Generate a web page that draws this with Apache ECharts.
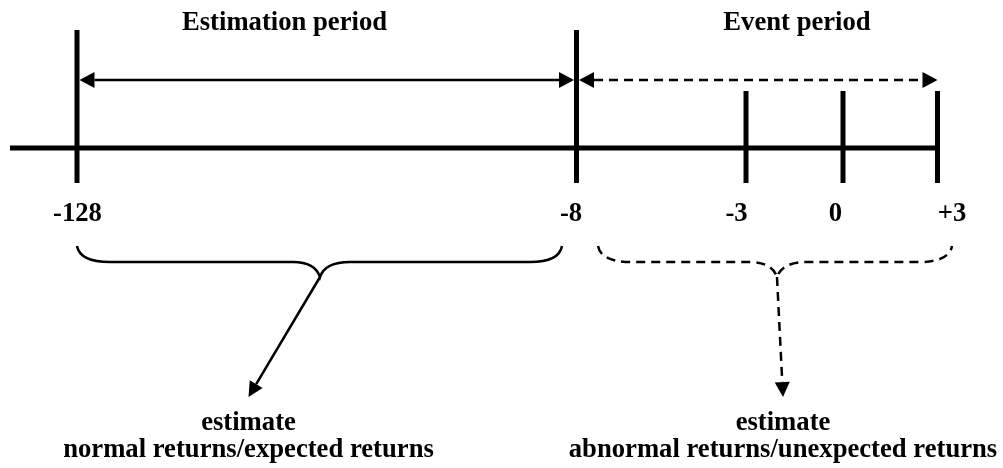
<!DOCTYPE html>
<html>
<head>
<meta charset="utf-8">
<title>Estimation and event window</title>
<script src="https://cdn.jsdelivr.net/npm/echarts@6/dist/echarts.min.js"></script>
<style>
    html, body {margin: 0; padding: 0; background: #fff;}
    #main {width: 1003px; height: 468px;}
</style>
</head>
<body>
<div id="main"></div>
<script>
    // days marked on the time line
    var days = [-128, -8, -3, 0, 3];
    var dayLabels = ['-128', '-8', '-3', '0', '+3'];
    // the two windows
    var periodNames = ['Estimation period', 'Event period'];
    var periodStart = [-128, -8];
    var periodEnd = [-8, 3];
    // what each window is used for
    var outcomeVerb = ['estimate', 'estimate'];
    var outcomeWhat = ['normal returns/expected returns', 'abnormal returns/unexpected returns'];

    // layout of the sketch (not to scale), in the 1003 x 468 frame of the axes
    var dayX = [77, 576.5, 746, 843, 937.5];
    var tallTick = [true, true, false, false, false];
    var labelX = [77.5, 571, 736.5, 835.5, 952];
    var titleX = [284.5, 797];
    var braceEnds = [[77, 562], [598, 952]];
    var braceTip = [320, 777];
    var outcomeX = [248.5, 783];
    var dashedPeriod = [false, true];
    var Y = {
        title: 23, arrow: 80, tallTop: 30, shortTop: 91, axis: 148, tickBottom: 183, label: 214,
        braceEnd: 246, braceMid: 262, braceTip: 277, outTip: 397, verb: 423, what: 450
    };

    var FONT = 'bold 26.67px "Liberation Serif", "Times New Roman", serif';

    function posOf(day) {
        return dayX[days.indexOf(day)];
    }
    function tallOf(day) {
        return tallTick[days.indexOf(day)];
    }

    // shaft end and triangle for an arrow head whose point is at t, coming from f
    function head(f, t, len, half) {
        var dx = t[0] - f[0], dy = t[1] - f[1];
        var d = Math.sqrt(dx * dx + dy * dy);
        var ux = dx / d, uy = dy / d;
        var bx = t[0] - ux * len, by = t[1] - uy * len;
        return {
            base: [bx, by],
            tri: {
                type: 'polygon',
                shape: {points: [t, [bx - uy * half, by + ux * half], [bx + uy * half, by - ux * half]]},
                style: {fill: '#000'}
            }
        };
    }

    var chart = echarts.init(document.getElementById('main'));
    chart.setOption({
        animation: false,
        grid: {left: 0, right: 0, top: 0, bottom: 0},
        xAxis: {type: 'value', min: 0, max: 1003, show: false},
        yAxis: {type: 'value', min: 0, max: 468, inverse: true, show: false},
        series: [
            {
                // the time line itself
                type: 'line',
                silent: true,
                symbol: 'none',
                lineStyle: {color: '#000', width: 5},
                data: [[10, Y.axis], [posOf(3) + 2.5, Y.axis]]
            },
            {
                // ticks and day labels
                type: 'custom',
                silent: true,
                clip: false,
                data: days.map(function (d, i) {
                    return [posOf(d), tallTick[i] ? Y.tallTop : Y.shortTop, Y.tickBottom, labelX[i]];
                }),
                renderItem: function (params, api) {
                    var top = api.coord([api.value(0), api.value(1)]);
                    var bot = api.coord([api.value(0), api.value(2)]);
                    var lab = api.coord([api.value(3), Y.label]);
                    return {
                        type: 'group',
                        children: [
                            {
                                type: 'line',
                                shape: {x1: top[0], y1: top[1], x2: bot[0], y2: bot[1]},
                                style: {stroke: '#000', lineWidth: 5}
                            },
                            {
                                type: 'text',
                                x: lab[0], y: lab[1],
                                style: {
                                    text: dayLabels[params.dataIndex], font: FONT, fill: '#000',
                                    align: 'center', verticalAlign: 'middle'
                                }
                            }
                        ]
                    };
                }
            },
            {
                // double headed arrows with the period names
                type: 'custom',
                silent: true,
                clip: false,
                data: periodNames.map(function (name, i) {
                    var a = periodStart[i], b = periodEnd[i];
                    return [posOf(a) + (tallOf(a) ? 2.5 : 0), posOf(b) - (tallOf(b) ? 2.5 : 0), titleX[i]];
                }),
                renderItem: function (params, api) {
                    var i = params.dataIndex;
                    var p1 = api.coord([api.value(0), Y.arrow]);
                    var p2 = api.coord([api.value(1), Y.arrow]);
                    var t = api.coord([api.value(2), Y.title]);
                    var h1 = head(p2, p1, 15, 8);
                    var h2 = head(p1, p2, 15, 8);
                    return {
                        type: 'group',
                        children: [
                            {
                                type: 'line',
                                shape: {x1: h1.base[0], y1: h1.base[1], x2: h2.base[0], y2: h2.base[1]},
                                style: {stroke: '#000', lineWidth: 2.5, lineDash: dashedPeriod[i] ? [9, 6] : null}
                            },
                            h1.tri,
                            h2.tri,
                            {
                                type: 'text',
                                x: t[0], y: t[1],
                                style: {
                                    text: periodNames[i], font: FONT, fill: '#000',
                                    align: 'center', verticalAlign: 'middle'
                                }
                            }
                        ]
                    };
                }
            },
            {
                // braces under each window, arrow down to what is estimated
                type: 'custom',
                silent: true,
                clip: false,
                data: periodNames.map(function (name, i) {
                    return [braceEnds[i][0], braceTip[i], braceEnds[i][1], outcomeX[i]];
                }),
                renderItem: function (params, api) {
                    var i = params.dataIndex;
                    var dash = dashedPeriod[i] ? [9, 6] : null;
                    var l = api.coord([api.value(0), Y.braceEnd]);
                    var m = api.coord([api.value(1), Y.braceMid]);
                    var tip = api.coord([api.value(1), Y.braceTip]);
                    var r = api.coord([api.value(2), Y.braceEnd]);
                    var out = api.coord([api.value(3), Y.outTip]);
                    var yv = m[1];
                    var d = 'M' + l[0] + ',' + l[1] +
                        ' C' + (l[0] + 2) + ',' + (l[1] + 11) + ' ' + (l[0] + 14) + ',' + yv + ' ' + (l[0] + 33) + ',' + yv +
                        ' L' + (tip[0] - 27) + ',' + yv +
                        ' C' + (tip[0] - 12) + ',' + yv + ' ' + (tip[0] - 3) + ',' + (yv + 6) + ' ' + tip[0] + ',' + tip[1] +
                        ' C' + (tip[0] + 3) + ',' + (yv + 6) + ' ' + (tip[0] + 12) + ',' + yv + ' ' + (tip[0] + 30) + ',' + yv +
                        ' L' + (r[0] - 32) + ',' + yv +
                        ' C' + (r[0] - 14) + ',' + yv + ' ' + (r[0] - 2) + ',' + (r[1] + 11) + ' ' + r[0] + ',' + r[1];
                    var h = head(tip, out, 15, 7.5);
                    var v = api.coord([api.value(3), Y.verb]);
                    var w = api.coord([api.value(3), Y.what]);
                    return {
                        type: 'group',
                        children: [
                            {
                                type: 'path',
                                shape: {pathData: d},
                                style: {stroke: '#000', fill: null, lineWidth: 2.5, lineDash: dash}
                            },
                            {
                                type: 'line',
                                shape: {x1: tip[0], y1: tip[1], x2: h.base[0], y2: h.base[1]},
                                style: {stroke: '#000', lineWidth: 2.5, lineDash: dash}
                            },
                            h.tri,
                            {
                                type: 'text',
                                x: v[0], y: v[1],
                                style: {
                                    text: outcomeVerb[i], font: FONT, fill: '#000',
                                    align: 'center', verticalAlign: 'middle'
                                }
                            },
                            {
                                type: 'text',
                                x: w[0], y: w[1],
                                style: {
                                    text: outcomeWhat[i], font: FONT, fill: '#000',
                                    align: 'center', verticalAlign: 'middle'
                                }
                            }
                        ]
                    };
                }
            }
        ]
    });
    window.addEventListener('resize', function () {
        chart.resize();
    });
</script>
</body>
</html>
